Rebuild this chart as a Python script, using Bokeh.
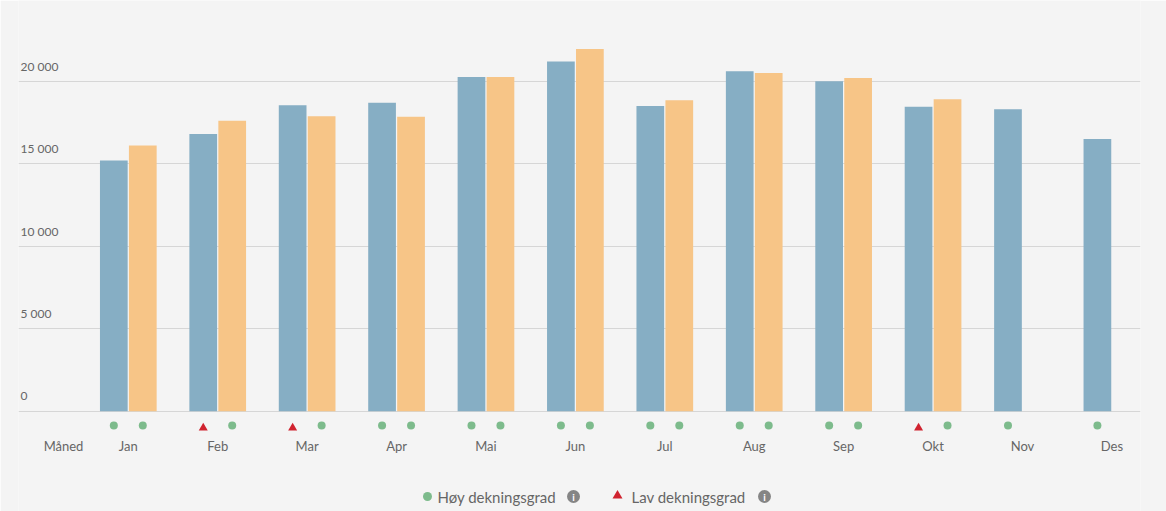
from bokeh.plotting import figure
from bokeh.models import Range1d, FixedTicker, ColumnDataSource
from bokeh.core.properties import value
from bokeh.embed import file_html
from bokeh.resources import INLINE

# ---- data ----
months = ["Jan", "Feb", "Mar", "Apr", "Mai", "Jun", "Jul", "Aug", "Sep", "Okt", "Nov", "Des"]
series_a = [15200, 16800, 18550, 18700, 20250, 21200, 18500, 20600, 20000, 18450, 18300, 16500]
series_b = [16100, 17600, 17880, 17850, 20250, 21950, 18850, 20500, 20200, 18900, None, None]
status_a = ["hoy", "lav", "lav", "hoy", "hoy", "hoy", "hoy", "hoy", "hoy", "lav", "hoy", "hoy"]
status_b = ["hoy", "hoy", "hoy", "hoy", "hoy", "hoy", "hoy", "hoy", "hoy", "hoy", None, None]
y_ticks = [0, 5000, 10000, 15000, 20000]
y_tick_labels = ["0", "5 000", "10 000", "15 000", "20 000"]
axis_title = "Måned"
legend_labels = ["Høy dekningsgrad", "Lav dekningsgrad"]

# ---- layout ----
W, H = 1166, 511
FL, FR = 18, 1140          # frame left/right in px
X0, X1 = -1.228, 11.32
ZERO_PX = 410.7
PX_PER_UNIT = 82.5 / 5000.0

def px_x(px):
    return X0 + (px - FL) * (X1 - X0) / (FR - FL)

def px_y(py):
    return (ZERO_PX - py) / PX_PER_UNIT

BLUE = "#86aec4"
ORANGE = "#f7c587"
GREEN = "#7dbb8c"
RED = "#d0232f"
BG = "#f4f4f4"
FONT = "Lato"
TXT = "#666666"

p = figure(width=W, height=H, output_backend="svg", toolbar_location=None,
           x_range=Range1d(X0, X1), y_range=Range1d(px_y(H), px_y(0)),
           min_border_left=FL, min_border_right=W - FR, min_border_top=0, min_border_bottom=0)
p.background_fill_color = BG
p.border_fill_color = BG
p.outline_line_color = None
p.xaxis.visible = False
p.yaxis.visible = False
p.xgrid.visible = False
p.ygrid.ticker = FixedTicker(ticks=y_ticks)
p.ygrid.grid_line_color = "#d6d6d6"
p.ygrid.grid_line_width = 1

idx = list(range(len(months)))
off = 0.162
bw = 0.31

xa = [i - off for i in idx]
xb = [i + off for i in idx]
p.vbar(x=xa, top=series_a, bottom=0, width=bw, fill_color=BLUE, line_color=None)
xb_v = [x for x, v in zip(xb, series_b) if v is not None]
b_v = [v for v in series_b if v is not None]
p.vbar(x=xb_v, top=b_v, bottom=0, width=bw, fill_color=ORANGE, line_color=None)

# status markers
my = px_y(425)
gx = [x for x, s in zip(xa, status_a) if s == "hoy"] + [x for x, s in zip(xb, status_b) if s == "hoy"]
rx = [x for x, s in zip(xa, status_a) if s == "lav"] + [x for x, s in zip(xb, status_b) if s == "lav"]
p.scatter(x=gx, y=[my] * len(gx), marker="circle", size=8, fill_color=GREEN, line_color=None)
p.scatter(x=rx, y=[my - 150] * len(rx), marker="triangle", size=9, fill_color=RED, line_color=None)

# month labels
p.text(x=idx, y=[px_y(445)] * len(idx), text=months, text_align="center", text_baseline="middle",
       text_font=value(FONT), text_font_size="13px", text_color=TXT)
p.text(x=[px_x(63)], y=[px_y(445)], text=[axis_title], text_align="center", text_baseline="middle",
       text_font=value(FONT), text_font_size="13px", text_color=TXT)

# y tick labels (above gridlines, left)
p.text(x=[px_x(20)] * len(y_ticks), y=[t + 15 / PX_PER_UNIT for t in y_ticks], text=y_tick_labels,
       text_align="left", text_baseline="middle", text_font=value(FONT), text_font_size="12px",
       text_color=TXT)

# legend
ly = px_y(496)
p.scatter(x=[px_x(427)], y=[ly], marker="circle", size=9, fill_color=GREEN, line_color=None)
p.scatter(x=[px_x(617)], y=[ly + 50], marker="triangle", size=10, fill_color=RED, line_color=None)
p.text(x=[px_x(437), px_x(631)], y=[ly, ly], text=legend_labels, text_align="left",
       text_baseline="middle", text_font=value(FONT), text_font_size="15px", text_color=TXT)
ix = [px_x(573), px_x(764)]
p.scatter(x=ix, y=[ly, ly], marker="circle", size=13, fill_color="#858585", line_color=None)
p.text(x=ix, y=[ly, ly], text=["i", "i"], text_align="center", text_baseline="middle",
       text_font=value(FONT), text_font_size="10px", text_font_style="bold", text_color="#ffffff")

open("out.html", "w").write(file_html(p, INLINE))
